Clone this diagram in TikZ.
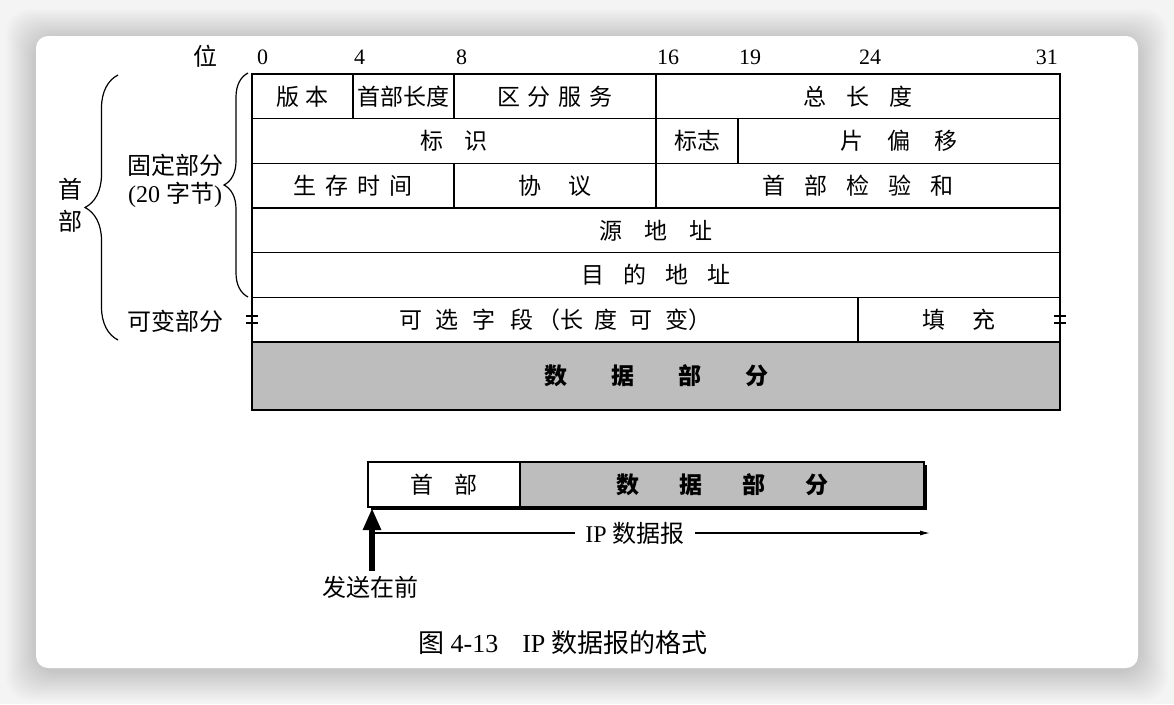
\documentclass[tikz,border=0pt]{standalone}
\usepackage{fontspec}
\setmainfont{Liberation Serif}
\newfontfamily\cjk{Noto Sans CJK SC}
\usetikzlibrary{decorations.pathreplacing,arrows.meta,calc}
\newcommand\gp[1]{\hspace{#1pt}}
\definecolor{pagebg}{HTML}{F4F4F4}
\definecolor{datagray}{HTML}{BDBDBD}
\begin{document}
\begin{tikzpicture}[x=1pt,y=-1pt,
  cjkfont/.style={font=\cjk\fontsize{23}{26}\selectfont},
  numfont/.style={font=\fontsize{22}{26}\selectfont},
  cell/.style={draw, line width=1.1pt, rectangle, anchor=north west, inner sep=0pt, outer sep=0pt,
    minimum height=44.67pt, cjkfont},
  datacell/.style={cell, fill=datagray, minimum height=68pt, font=\cjk\bfseries\fontsize{23}{26}\selectfont},
  bitlab/.style={numfont, anchor=west, inner sep=0pt},
  lab/.style={font=\cjk\fontsize{24}{27}\selectfont, inner sep=0pt},
  bracestyle/.style={decorate, line width=1.2pt},
  breakbar/.style={line width=2.6pt},
]
% background and card
\fill[pagebg] (0,0) rectangle (1174,704);
\useasboundingbox (0,0) rectangle (1174,704);
\foreach \k in {2,4,...,30} {
  \fill[black, opacity=0.013, rounded corners=24pt] (36-\k,36-\k+3) rectangle (1138+\k,668+\k+3);
}
\fill[white, rounded corners=12pt] (36,36) rectangle (1138,668);

% bit labels
\node[lab] (wei) at (205,56) {位};
\node[bitlab] (b0) at (257,57) {0};
\node[bitlab] (b4) at (354,57) {4};
\node[bitlab] (b8) at (456,57) {8};
\node[bitlab] (b16) at (657,57) {16};
\node[bitlab] (b19) at (739,57) {19};
\node[bitlab] (b24) at (859,57) {24};
\node[numfont, anchor=east, inner sep=0pt] (b31) at (1058,57) {31};

% header rows
\node[cell, minimum width=101pt] (ver) at (252,74) {版\gp{6}本};
\node[cell, minimum width=101pt] (ihl) at (353,74) {首部长度};
\node[cell, minimum width=202pt] (tos) at (454,74) {区\gp{8}分\gp{8}服\gp{8}务};
\node[cell, minimum width=404pt] (tlen) at (656,74) {总\gp{20}长\gp{20}度};

\node[cell, minimum width=404pt] (ident) at (252,118.67) {标\gp{22}识};
\node[cell, minimum width=82pt] (flag) at (656,118.67) {标志};
\node[cell, minimum width=322pt] (frag) at (738,118.67) {片\gp{24}偏\gp{24}移};

\node[cell, minimum width=202pt] (ttl) at (252,163.33) {生\gp{9}存\gp{9}时\gp{9}间};
\node[cell, minimum width=202pt] (proto) at (454,163.33) {协\gp{27}议};
\node[cell, minimum width=404pt] (csum) at (656,163.33) {首\gp{19}部\gp{19}检\gp{19}验\gp{19}和};

\node[cell, minimum width=808pt] (src) at (252,208) {源\gp{22}地\gp{22}址};
\node[cell, minimum width=808pt] (dst) at (252,252.67) {目\gp{19}的\gp{19}地\gp{19}址};

\node[cell, minimum width=606pt] (opt) at (252,297.33) {可\gp{14}选\gp{14}字\gp{14}段\gp{4}（长\gp{12}度\gp{12}可\gp{12}变）};
\node[cell, minimum width=202pt] (pad) at (858,297.33) {填\gp{27}充};

\node[datacell, minimum width=808pt] (data) at (252,342) {数\gp{44}据\gp{44}部\gp{44}分};

% break marks
\draw[breakbar] ($(opt.west)+(-6,-3.5)$) -- ($(opt.west)+(6,-3.5)$);
\draw[breakbar] ($(opt.west)+(-6,3.5)$) -- ($(opt.west)+(6,3.5)$);
\draw[breakbar] ($(pad.east)+(-6,-3.5)$) -- ($(pad.east)+(6,-3.5)$);
\draw[breakbar] ($(pad.east)+(-6,3.5)$) -- ($(pad.east)+(6,3.5)$);

% braces
\draw[bracestyle, decoration={brace, amplitude=33pt}] (118,340) -- (118,75);
\draw[bracestyle, decoration={brace, amplitude=24pt}] (248,297) -- (248,73);
\node[lab] (shou) at (70,189) {首};
\node[lab] (bu) at (70,221) {部};
\node[lab] (fixed) at (175,165) {固定部分};
\node[lab, font=\fontsize{24}{27}\selectfont] (fixed2) at (175,195) {(20 {\cjk 字节})};
\node[lab] (var) at (175,321) {可变部分};

% bottom diagram
\node[cell, minimum width=152pt, minimum height=45pt] (bh) at (368,462) {首\gp{22}部};
\node[datacell, minimum width=404pt, minimum height=45pt] (bd) at (520,462) {数\gp{40}据\gp{40}部\gp{40}分};
\draw[line width=2.6pt] ($(bd.north east)+(1.6,3)$) -- ($(bd.south east)+(1.6,1.6)$) -- ($(bh.south west)+(3,1.6)$);

\coordinate (astart) at (372,533);
\coordinate (aend) at (930,533);
\draw[line width=1.1pt, -{Latex[length=10pt,width=5pt]}] (astart) -- (aend);
\node[fill=white, inner xsep=10pt, inner ysep=2pt, font=\fontsize{24}{27}\selectfont] (iplab) at (635,533) {IP {\cjk 数据报}};

\coordinate (sendtail) at (372,571);
\coordinate (sendtip) at (372,508);
\draw[line width=6pt, -{Triangle[length=22pt,width=17pt]}] (sendtail) -- (sendtip);
\node[lab] (send) at (370,587) {发送在前};

% caption
\node[inner sep=0pt, font=\fontsize{26}{30}\selectfont] (cap) at (563,643) {{\cjk 图} 4-13\hspace{24pt}IP {\cjk 数据报的格式}};
\end{tikzpicture}
\end{document}
